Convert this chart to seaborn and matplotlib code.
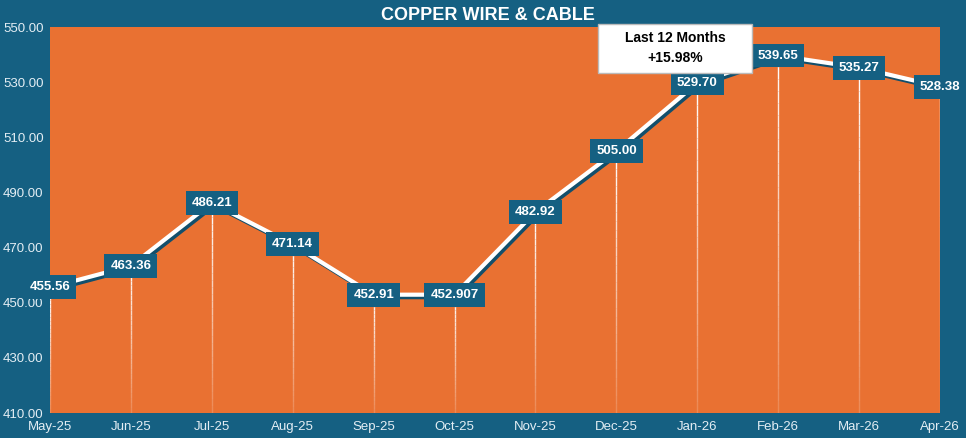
import matplotlib
matplotlib.use('Agg')
import matplotlib.pyplot as plt
import matplotlib.patheffects as pe
from matplotlib.patches import Rectangle
import numpy as np
import pandas as pd
import seaborn as sns

months = ["May-25", "Jun-25", "Jul-25", "Aug-25", "Sep-25", "Oct-25",
          "Nov-25", "Dec-25", "Jan-26", "Feb-26", "Mar-26", "Apr-26"]
prices = [455.56, 463.36, 486.21, 471.14, 452.91, 452.907,
          482.92, 505.00, 529.70, 539.65, 535.27, 528.38]
price_labels = ["455.56", "463.36", "486.21", "471.14", "452.91", "452.907",
                "482.92", "505.00", "529.70", "539.65", "535.27", "528.38"]
y_ticks = [410, 430, 450, 470, 490, 510, 530, 550]
title = "COPPER WIRE & CABLE"
note = "Last 12 Months\n+15.98%"

BLUE = "#156082"
ORANGE = "#E97132"

sns.set_style("white")
plt.rcParams['font.family'] = ['Liberation Sans', 'DejaVu Sans']

df = pd.DataFrame({"Month": months, "Price": prices})

W, H = 966, 438
fig = plt.figure(figsize=(W / 100, H / 100), dpi=100)
fig.patch.set_facecolor(BLUE)
ax = fig.add_axes([50 / W, 25 / H, 890 / W, 386 / H])
ax.set_facecolor(ORANGE)

# drop lines, fading towards the bottom
n_seg = 30
for i, v in enumerate(prices):
    edges = np.linspace(410, v, n_seg + 1)
    for k in range(n_seg):
        ax.plot([i, i], [edges[k], edges[k + 1]], color="white", lw=1,
                alpha=0.15 + 0.85 * (k + 1) / n_seg, solid_capstyle="butt", zorder=2)

sns.lineplot(data=df, x="Month", y="Price", ax=ax, color="white", lw=3.0,
             sort=False, zorder=3,
             path_effects=[pe.SimpleLineShadow(offset=(1.8, -1.8), shadow_color="#124F6C", alpha=1),
                           pe.Normal()])

for i, (v, lab) in enumerate(zip(prices, price_labels)):
    ax.text(i, v, lab, ha="center", va="center", color="white", fontsize=9.5,
            fontweight="bold", zorder=5, clip_on=False,
            bbox=dict(boxstyle="square,pad=0.45", fc=BLUE, ec="none"))

ax.set_xlim(0, len(months) - 1)
ax.set_ylim(410, 550)
ax.set_yticks(y_ticks)
ax.set_yticklabels([f"{t:.2f}" for t in y_ticks], color="#E4EEF4", fontsize=9.5)
ax.tick_params(axis="x", length=0, pad=6, labelsize=9.5, labelcolor="#E4EEF4")
ax.tick_params(axis="y", length=0, pad=0)
for lab in ax.get_yticklabels():
    lab.set_horizontalalignment("left")
    lab.set_x(-47 / 890)
ax.set_xlabel("")
ax.set_ylabel("")
for s in ax.spines.values():
    s.set_visible(False)

fig.text(488 / W, 1 - 16 / H, title, ha="center", va="center", color="white",
         fontsize=13, fontweight="bold")

# "Last 12 Months" call-out box
fig.patches.append(Rectangle((598 / W, 1 - 73 / H), 154 / W, 49 / H,
                             transform=fig.transFigure, fc="white", ec="#BBBBBB",
                             lw=1, zorder=9))
fig.text(675 / W, 1 - 48 / H, note, ha="center", va="center", color="black",
         fontsize=10, fontweight="bold", linespacing=1.5, zorder=10)

fig.savefig("out.png", dpi=100, facecolor=fig.get_facecolor())
